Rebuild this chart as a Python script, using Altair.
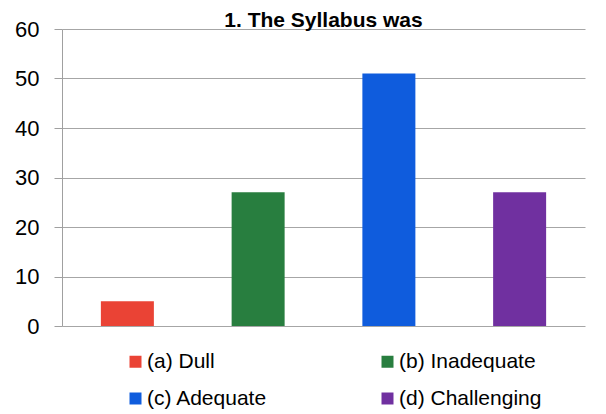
import altair as alt
import pandas as pd

categories = ["(a) Dull", "(b) Inadequate", "(c) Adequate", "(d) Challenging"]
values = [5, 27, 51, 27]
colors = ["#EA4335", "#287E3F", "#0F5CDD", "#7030A0"]

df = pd.DataFrame({"cat": categories, "val": values})

FONT = "Liberation Sans"

chart = (
    alt.Chart(df)
    .mark_bar(size=53)
    .encode(
        x=alt.X("cat:N", sort=categories, axis=None,
                scale=alt.Scale(paddingInner=0.6, paddingOuter=0.3)),
        y=alt.Y("val:Q", scale=alt.Scale(domain=[0, 60]),
                axis=alt.Axis(values=[0, 10, 20, 30, 40, 50, 60], title=None,
                              labelFontSize=22, labelFont=FONT, labelColor="#000000",
                              labelPadding=15, tickSize=8, tickColor="#A0A0A0",
                              domainColor="#A0A0A0", gridColor="#A6A6A6",
                              grid=True, labelFlush=False)),
        color=alt.Color("cat:N", sort=categories,
                        scale=alt.Scale(domain=categories, range=colors),
                        legend=alt.Legend(title=None, orient="none", legendX=63, legendY=322,
                                          columns=2, direction="horizontal",
                                          symbolType="square", symbolSize=144,
                                          symbolStrokeWidth=0,
                                          labelFontSize=21, labelFont=FONT,
                                          labelColor="#000000", labelOffset=1,
                                          columnPadding=109, rowPadding=15)),
    )
    .properties(
        width=523, height=297,
        title=alt.TitleParams("1. The Syllabus  was", fontSize=21, font=FONT,
                              fontWeight="bold", anchor="middle", offset=4, dy=17,
                              color="#000000"),
        autosize=alt.AutoSizeParams(type="none"),
        padding={"left": 54, "top": 21, "right": 13, "bottom": 86},
    )
    .configure_view(stroke=None)
)

chart.save("out.html", embed_options={"renderer": "svg", "actions": False})
